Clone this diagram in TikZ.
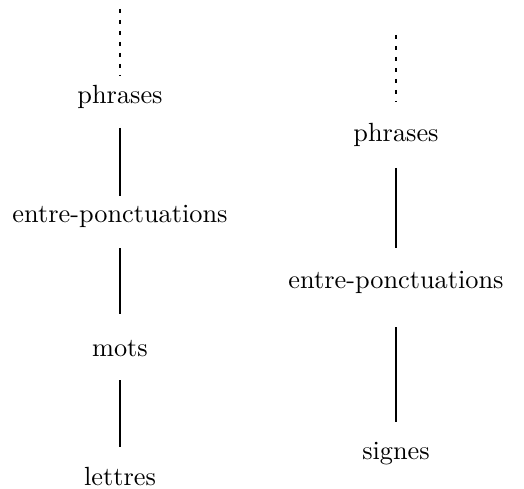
\documentclass[tikz,border=0pt]{standalone}
\usepackage{fontspec}
\newfontfamily\lmten{lmroman10-regular.otf}
\begin{document}
\begin{tikzpicture}[x=1pt,y=-1pt,
  lbl/.style={anchor=base,inner sep=0pt,font=\lmten\fontsize{26.3}{30}\selectfont},
  solidline/.style={line width=2pt},
  dotline/.style={line width=2pt,dash pattern=on 4pt off 7pt}]
\useasboundingbox (0,0) rectangle (524,489);
% left column
\node[lbl] (lp) at (120,104) {phrases};
\node[lbl] (le) at (120,222) {entre-ponctuations};
\node[lbl] (lm) at (120,356) {mots};
\node[lbl] (ll) at (120,485) {lettres};
\coordinate (ld0) at (120,9);
\coordinate (ld1) at (120,76);
\coordinate (l1a) at (120,128);
\coordinate (l1b) at (120,196);
\coordinate (l2a) at (120,248);
\coordinate (l2b) at (120,314);
\coordinate (l3a) at (120,380);
\coordinate (l3b) at (120,447);
\draw[dotline] (ld0) -- (ld1);
\draw[solidline] (l1a) -- (l1b);
\draw[solidline] (l2a) -- (l2b);
\draw[solidline] (l3a) -- (l3b);
% right column
\node[lbl] (rp) at (396,142) {phrases};
\node[lbl] (re) at (396,288) {entre-ponctuations};
\node[lbl] (rs) at (396,459) {signes};
\coordinate (rd0) at (396,35);
\coordinate (rd1) at (396,102);
\coordinate (r1a) at (396,168);
\coordinate (r1b) at (396,248);
\coordinate (r2a) at (396,327);
\coordinate (r2b) at (396,422);
\draw[dotline] (rd0) -- (rd1);
\draw[solidline] (r1a) -- (r1b);
\draw[solidline] (r2a) -- (r2b);
\end{tikzpicture}
\end{document}
